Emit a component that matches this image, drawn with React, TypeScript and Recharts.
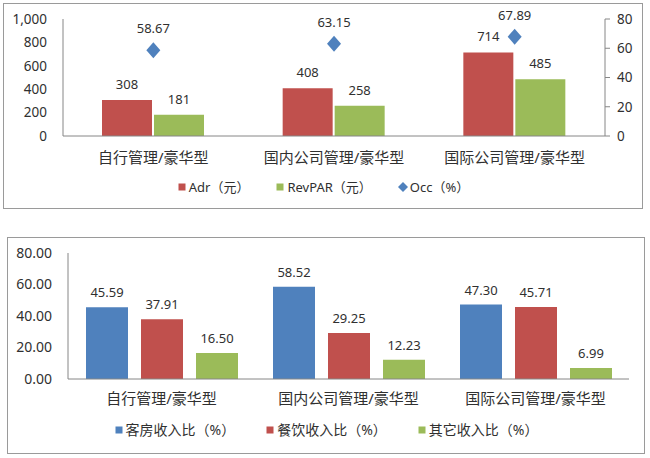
import React from "react";
import {
  ComposedChart,
  BarChart,
  Bar,
  Line,
  XAxis,
  YAxis,
  Legend,
  LabelList,
} from "recharts";

const hotelTypes = ["自行管理/豪华型", "国内公司管理/豪华型", "国际公司管理/豪华型"];

// top chart
const priceSeries = ["Adr（元）", "RevPAR（元）", "Occ（%）"];
const adr = [308, 408, 714];
const revpar = [181, 258, 485];
const occ = [58.67, 63.15, 67.89];
const priceTicks = [0, 200, 400, 600, 800, 1000];
const occTicks = [0, 20, 40, 60, 80];

// bottom chart
const shareSeries = ["客房收入比（%）", "餐饮收入比（%）", "其它收入比（%）"];
const roomShare = [45.59, 58.52, 47.3];
const foodShare = [37.91, 29.25, 45.71];
const otherShare = [16.5, 12.23, 6.99];
const shareTicks = [0, 20, 40, 60, 80];

const BLUE = "#4F81BD";
const RED = "#C0504D";
const GREEN = "#9BBB59";
const AXIS = "#868686";
const TEXT = "#303030";
const FONT = "'Noto Sans', 'Noto Sans CJK SC', sans-serif";

const priceData = hotelTypes.map((name, i) => ({
  name,
  adr: adr[i],
  revpar: revpar[i],
  occ: occ[i],
}));

const shareData = hotelTypes.map((name, i) => ({
  name,
  room: roomShare[i],
  food: foodShare[i],
  other: otherShare[i],
}));

const Diamond = (props: any) => {
  const { cx, cy } = props;
  if (cx == null || cy == null) return null;
  return (
    <polygon
      points={`${cx},${cy - 8} ${cx + 7},${cy} ${cx},${cy + 8} ${cx - 7},${cy}`}
      fill={BLUE}
    />
  );
};

// legend keeps the series order given, recharts sorts by name otherwise
const makeLegend = (order: string[], fontSize: number, gap: number) => (props: any) => {
  const items = [...(props.payload || [])].sort(
    (a: any, b: any) => order.indexOf(a.value) - order.indexOf(b.value)
  );
  return (
    <div
      style={{
        display: "flex",
        justifyContent: "center",
        gap,
        fontSize,
        fontFamily: FONT,
        color: TEXT,
        lineHeight: "18px",
      }}
    >
      {items.map((item: any) => (
        <span key={item.value} style={{ display: "flex", alignItems: "center" }}>
          <svg width={10} height={10} style={{ marginRight: 2 }}>
            {item.type === "diamond" ? (
              <polygon points="5,0 10,5 5,10 0,5" fill={item.color} />
            ) : (
              <rect x={1.5} y={1.5} width={7} height={7} fill={item.color} />
            )}
          </svg>
          {item.value}
        </span>
      ))}
    </div>
  );
};

const tickStyle = (fontSize: number) => ({ fill: TEXT, fontSize, fontFamily: FONT });

function PriceChart() {
  return (
    <ComposedChart
      width={640}
      height={206}
      data={priceData}
      margin={{ top: 16, right: 0, left: 0, bottom: 43 }}
      barSize={50}
      barGap={2}
    >
      <XAxis
        dataKey="name"
        height={30}
        tick={tickStyle(15)}
        tickLine={false}
        tickSize={0}
        tickMargin={16}
        axisLine={{ stroke: AXIS }}
      />
      <YAxis
        yAxisId="left"
        width={60}
        domain={[0, 1000]}
        ticks={priceTicks}
        tickFormatter={(v: number) => v.toLocaleString("en-US")}
        tick={tickStyle(13.5)}
        tickLine={false}
        tickSize={0}
        tickMargin={16}
        axisLine={{ stroke: AXIS }}
      />
      <YAxis
        yAxisId="right"
        orientation="right"
        width={38}
        domain={[0, 80]}
        ticks={occTicks}
        tick={tickStyle(13.5)}
        tickLine={{ stroke: AXIS }}
        tickSize={5}
        tickMargin={7}
        axisLine={{ stroke: AXIS }}
      />
      <Legend
        verticalAlign="middle"
        align="center"
        layout="horizontal"
        wrapperStyle={{ top: 175, left: 0, width: 640 }}
        content={makeLegend(priceSeries, 13, 26)}
      />
      <Bar yAxisId="left" dataKey="adr" name={priceSeries[0]} fill={RED} isAnimationActive={false}>
        <LabelList dataKey="adr" position="top" offset={11} fill={TEXT} fontSize={13} fontFamily={FONT} />
      </Bar>
      <Bar yAxisId="left" dataKey="revpar" name={priceSeries[1]} fill={GREEN} isAnimationActive={false}>
        <LabelList dataKey="revpar" position="top" offset={11} fill={TEXT} fontSize={13} fontFamily={FONT} />
      </Bar>
      <Line
        yAxisId="right"
        dataKey="occ"
        name={priceSeries[2]}
        stroke={BLUE}
        strokeWidth={0}
        legendType="diamond"
        dot={<Diamond />}
        activeDot={false}
        isAnimationActive={false}
      >
        <LabelList dataKey="occ" position="top" offset={17} fill={TEXT} fontSize={13} fontFamily={FONT} />
      </Line>
    </ComposedChart>
  );
}

const twoDecimals = (v: any) => Number(v).toFixed(2);

function ShareChart() {
  return (
    <BarChart
      width={638}
      height={217}
      data={shareData}
      margin={{ top: 16, right: 16, left: 0, bottom: 45 }}
      barSize={42}
      barGap={13}
    >
      <XAxis
        dataKey="name"
        height={30}
        tick={tickStyle(15)}
        tickLine={false}
        tickSize={0}
        tickMargin={14}
        axisLine={{ stroke: AXIS }}
      />
      <YAxis
        width={61}
        domain={[0, 80]}
        ticks={shareTicks}
        tickFormatter={(v: number) => v.toFixed(2)}
        tick={tickStyle(14)}
        tickLine={false}
        tickSize={0}
        tickMargin={16}
        axisLine={{ stroke: AXIS }}
      />
      <Legend
        verticalAlign="middle"
        align="center"
        layout="horizontal"
        wrapperStyle={{ top: 184, left: 0, width: 638 }}
        content={makeLegend(shareSeries, 14, 30)}
      />
      <Bar dataKey="room" name={shareSeries[0]} fill={BLUE} isAnimationActive={false}>
        <LabelList dataKey="room" position="top" offset={10} fill={TEXT} fontSize={13} fontFamily={FONT} formatter={twoDecimals} />
      </Bar>
      <Bar dataKey="food" name={shareSeries[1]} fill={RED} isAnimationActive={false}>
        <LabelList dataKey="food" position="top" offset={10} fill={TEXT} fontSize={13} fontFamily={FONT} formatter={twoDecimals} />
      </Bar>
      <Bar dataKey="other" name={shareSeries[2]} fill={GREEN} isAnimationActive={false}>
        <LabelList dataKey="other" position="top" offset={10} fill={TEXT} fontSize={13} fontFamily={FONT} formatter={twoDecimals} />
      </Bar>
    </BarChart>
  );
}

const boxStyle: React.CSSProperties = {
  position: "absolute",
  boxSizing: "border-box",
  border: "1px solid #9a9a9a",
};

export default function App() {
  return (
    <div
      style={{
        position: "absolute",
        left: 0,
        top: 0,
        width: 650,
        height: 458,
        background: "#fff",
        fontFamily: FONT,
      }}
    >
      <div style={{ ...boxStyle, left: 3, top: 3, width: 640, height: 206 }} />
      <div style={{ position: "absolute", left: 3, top: 3 }}>
        <PriceChart />
      </div>
      <div style={{ ...boxStyle, left: 7, top: 237, width: 638, height: 217 }} />
      <div style={{ position: "absolute", left: 7, top: 237 }}>
        <ShareChart />
      </div>
    </div>
  );
}
